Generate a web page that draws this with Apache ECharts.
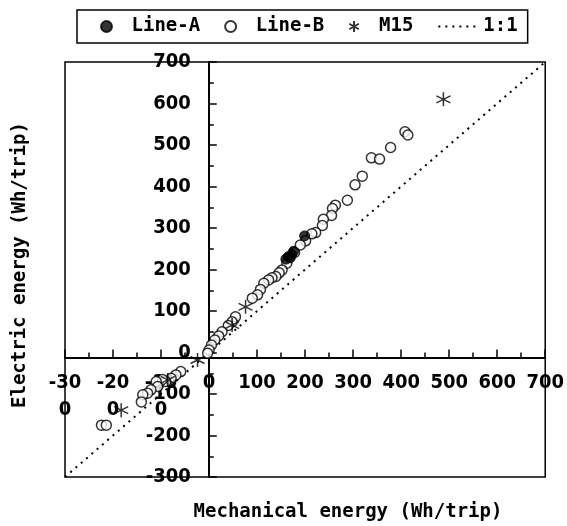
<!DOCTYPE html>
<html>
<head>
<meta charset="utf-8">
<script src="https://cdn.jsdelivr.net/npm/echarts@6/dist/echarts.min.js"></script>
<style>html,body{margin:0;padding:0;background:#fff;}#c{width:567px;height:526px;}</style>
</head>
<body>
<div id="c"></div>
<script>
const seriesNames = ['Line-A', 'Line-B', 'M15', '1:1'];
const lineA = [[160,225],[165,231],[169,228],[172,236],[176,244],[199,281]];
const lineB = [[408,532],[414,524],[378,494],[338,469],[355,466],[319,425],[304,404],[288,367],
  [263,355],[257,347],[255,330],[238,321],[236,306],[222,289],[214,286],[201,269],[190,259],
  [178,241],[162,215],[152,199],[146,192],[139,183],[131,180],[124,175],[114,167],[107,152],
  [101,139],[90,131],[55,86],[48,74],[40,65],[27,50],[20,40],[12,30],[5,18],[0,6],[-3,-2],
  [-59,-46],[-69,-54],[-79,-62],[-90,-70],[-97,-65],[-110,-70],[-107,-82],[-121,-90],
  [-128,-98],[-138,-102],[-141,-119],[-224,-175],[-214,-175]];
const m15 = [[488,610],[76,110],[48,66],[-24,-18],[-86,-66],[-183,-139]];
const oneToOne = [[-300,-300],[700,700]];
const axisMin = -300, axisMax = 700, axisStep = 100;
const xTitle = 'Mechanical energy (Wh/trip)';
const yTitle = 'Electric energy (Wh/trip)';

const MONO = '"DejaVu Sans Mono", monospace';
const NUM = '"DejaVu Sans Condensed", "DejaVu Sans", sans-serif';
const star = 'path://M0,-10 L0,10 M-8.66,-5 L8.66,5 M-8.66,5 L8.66,-5';

const chart = echarts.init(document.getElementById('c'), null, {renderer: 'canvas'});
const axisCommon = {
  type: 'value', min: axisMin, max: axisMax, interval: axisStep,
  axisLine: {onZero: false, lineStyle: {color: '#000', width: 2}},
  axisTick: {inside: true, length: 8, lineStyle: {color: '#000', width: 1.5}},
  minorTick: {show: true, splitNumber: 2, length: 5, lineStyle: {color: '#000', width: 1.5}},
  splitLine: {show: false},
};
chart.setOption({
  animation: false,
  backgroundColor: '#fff',
  grid: {left: 65, right: 19, top: 62, bottom: 49, show: true, borderColor: '#000', borderWidth: 1.5},
  legend: {
    data: ['Line-A', 'Line-B', 'M15', {name: '1:1', itemStyle: {opacity: 0}}],
    left: 77, top: 10, padding: [7, 10, 7, 23], itemGap: 24,
    itemWidth: 40, itemHeight: 11,
    borderColor: '#000', borderWidth: 1.5,
    textStyle: {fontFamily: MONO, fontSize: 19, fontWeight: 'bold', color: '#000'}
  },
  xAxis: Object.assign({}, axisCommon, {
    position: 'bottom',
    axisLabel: {margin: 12, fontFamily: NUM, fontSize: 20, fontWeight: 'bold', color: '#000', lineHeight: 27,
      formatter: v => { const s = String(v); return v < 0 ? s.slice(0, 3) + '\n' + s.slice(3) : s; }}
  }),
  yAxis: Object.assign({}, axisCommon, {
    position: 'left',
    axisLabel: {margin: 18, fontFamily: NUM, fontSize: 20, fontWeight: 'bold', color: '#000'}
  }),
  graphic: [
    {type: 'text', x: 348, y: 512, style: {text: xTitle, font: 'bold 19px ' + MONO, fill: '#000', textAlign: 'center', textVerticalAlign: 'middle'}},
    {type: 'text', x: 20, y: 265, rotation: Math.PI / 2, style: {text: yTitle, font: 'bold 19px ' + MONO, fill: '#000', textAlign: 'center', textVerticalAlign: 'middle'}}
  ],
  series: [
    {name: '1:1', type: 'line', data: oneToOne, symbol: 'none', z: 1,
      lineStyle: {color: '#000', width: 2, type: [2, 5]}, itemStyle: {color: '#000'}},
    {name: 'Line-B', type: 'scatter', data: lineB, symbol: 'circle', symbolSize: 10, z: 3,
      itemStyle: {color: '#fff', borderColor: '#000', borderWidth: 1.5}},
    {name: 'Line-A', type: 'scatter', data: lineA, symbol: 'circle', symbolSize: 10, z: 4,
      itemStyle: {color: '#000', borderColor: '#000', borderWidth: 1}},
    {name: 'M15', type: 'scatter', data: m15, symbol: star, symbolSize: 14, z: 5,
      itemStyle: {color: 'rgba(0,0,0,0)', borderColor: '#000', borderWidth: 1.5}}
  ]
});
// move both axes so they cross at the data origin (0,0), using the library's own scales
const origin = chart.convertToPixel({xAxisIndex: 0, yAxisIndex: 0}, [0, 0]);
const lowLeft = chart.convertToPixel({xAxisIndex: 0, yAxisIndex: 0}, [axisMin, axisMin]);
chart.setOption({
  xAxis: {offset: -(lowLeft[1] - origin[1])},
  yAxis: {offset: -(origin[0] - lowLeft[0])}
});
</script>
</body>
</html>
